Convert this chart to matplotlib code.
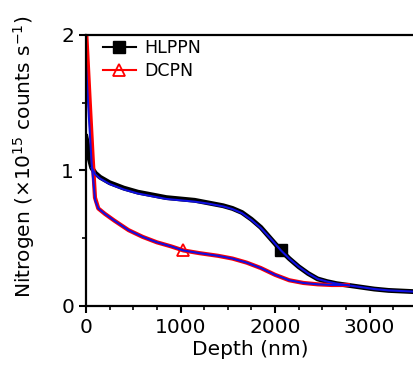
import matplotlib
matplotlib.use("Agg")
import matplotlib.pyplot as plt
from matplotlib.ticker import MultipleLocator

# data (depth in nm, nitrogen in 1e15 counts/s)
hlppn_depth = [0, 15, 30, 60, 100, 150, 250, 400, 550, 700, 850, 1000, 1150, 1300,
               1450, 1550, 1650, 1750, 1850, 1950, 2063, 2150, 2250, 2350, 2450,
               2550, 2650, 2750, 2900, 3050, 3200, 3350, 3500]
hlppn_val = [1.25, 1.2, 1.1, 1.02, 0.98, 0.95, 0.91, 0.87, 0.84, 0.82, 0.80, 0.79,
             0.78, 0.76, 0.74, 0.72, 0.69, 0.64, 0.58, 0.50, 0.41, 0.35, 0.29,
             0.24, 0.20, 0.18, 0.165, 0.155, 0.14, 0.125, 0.115, 0.11, 0.105]
hlppn_fit_depth = [60, 100, 150, 250, 400, 550, 700, 850, 1000, 1150, 1300, 1450,
                   1550, 1650, 1750, 1850, 1950, 2063, 2150, 2250, 2350, 2450, 2550,
                   2650, 2750, 2900, 3050, 3200, 3350, 3500]
hlppn_fit_val = [1.02, 0.97, 0.94, 0.90, 0.86, 0.83, 0.81, 0.79, 0.78, 0.77, 0.755,
                 0.735, 0.715, 0.685, 0.635, 0.575, 0.50, 0.41, 0.35, 0.29, 0.24,
                 0.20, 0.18, 0.165, 0.155, 0.14, 0.125, 0.115, 0.11, 0.105]

dcpn_depth = [0, 40, 70, 95, 130, 200, 300, 450, 600, 750, 900, 1030, 1200, 1400,
              1550, 1700, 1850, 2000, 2150, 2300, 2450, 2600, 2770]
dcpn_val = [2.05, 1.5, 1.1, 0.8, 0.72, 0.68, 0.63, 0.56, 0.51, 0.47, 0.44, 0.41,
            0.39, 0.37, 0.35, 0.32, 0.28, 0.23, 0.19, 0.17, 0.16, 0.155, 0.155]
dcpn_fit_depth = [0, 30, 60, 97, 130, 200, 300, 450, 600, 750, 900, 1030, 1200,
                  1400, 1550, 1700, 1850, 2000, 2150, 2300, 2450, 2600, 2770]
dcpn_fit_val = [1.78, 1.4, 1.05, 0.78, 0.72, 0.68, 0.63, 0.56, 0.51, 0.47, 0.44,
                0.41, 0.39, 0.37, 0.35, 0.32, 0.28, 0.23, 0.19, 0.17, 0.16, 0.155,
                0.155]

plt.rcParams['font.family'] = 'DejaVu Sans'
fig = plt.figure(figsize=(4.14, 3.68), dpi=100)
ax = fig.add_axes([0.2077, 0.1685, 0.7923, 0.7364])

ax.plot(hlppn_depth, hlppn_val, color='black', lw=3.5, marker='s', ms=8,
        markevery=[20], label='HLPPN', solid_joinstyle='round')
ax.plot(dcpn_depth, dcpn_val, color='red', lw=3, marker='^', ms=9,
        mfc='none', mew=1.3, markevery=[11], label='DCPN')
ax.plot(hlppn_fit_depth, hlppn_fit_val, color='#1010e0', lw=1.5)
ax.plot(dcpn_fit_depth, dcpn_fit_val, color='#1010e0', lw=1.5)

ax.set_xlim(0, 3470)
ax.set_ylim(0, 2)
ax.xaxis.set_major_locator(MultipleLocator(1000))
ax.xaxis.set_minor_locator(MultipleLocator(250))
ax.yaxis.set_major_locator(MultipleLocator(1))
ax.yaxis.set_minor_locator(MultipleLocator(0.5))
ax.tick_params(which='major', direction='out', length=5, width=1.5, labelsize=14.5)
ax.tick_params(which='minor', direction='out', length=3, width=1.2)

ax.spines['right'].set_visible(False)
for s in ['left', 'bottom', 'top']:
    ax.spines[s].set_linewidth(1.6)

ax.set_xlabel('Depth (nm)', fontsize=14.5, labelpad=2)
ax.set_ylabel('Nitrogen (\u00d710$^{15}$ counts s$^{-1}$)', fontsize=14.5)
ax.yaxis.set_label_coords(-0.15, 0.55)

leg = ax.legend(loc='upper left', frameon=False, fontsize=12.5,
                handlelength=1.9, handletextpad=0.5, labelspacing=0.3,
                borderaxespad=0.2, bbox_to_anchor=(0.02, 1.025))
for h in leg.get_lines():
    h.set_linewidth(1.5)

fig.savefig('out.png', dpi=100)
